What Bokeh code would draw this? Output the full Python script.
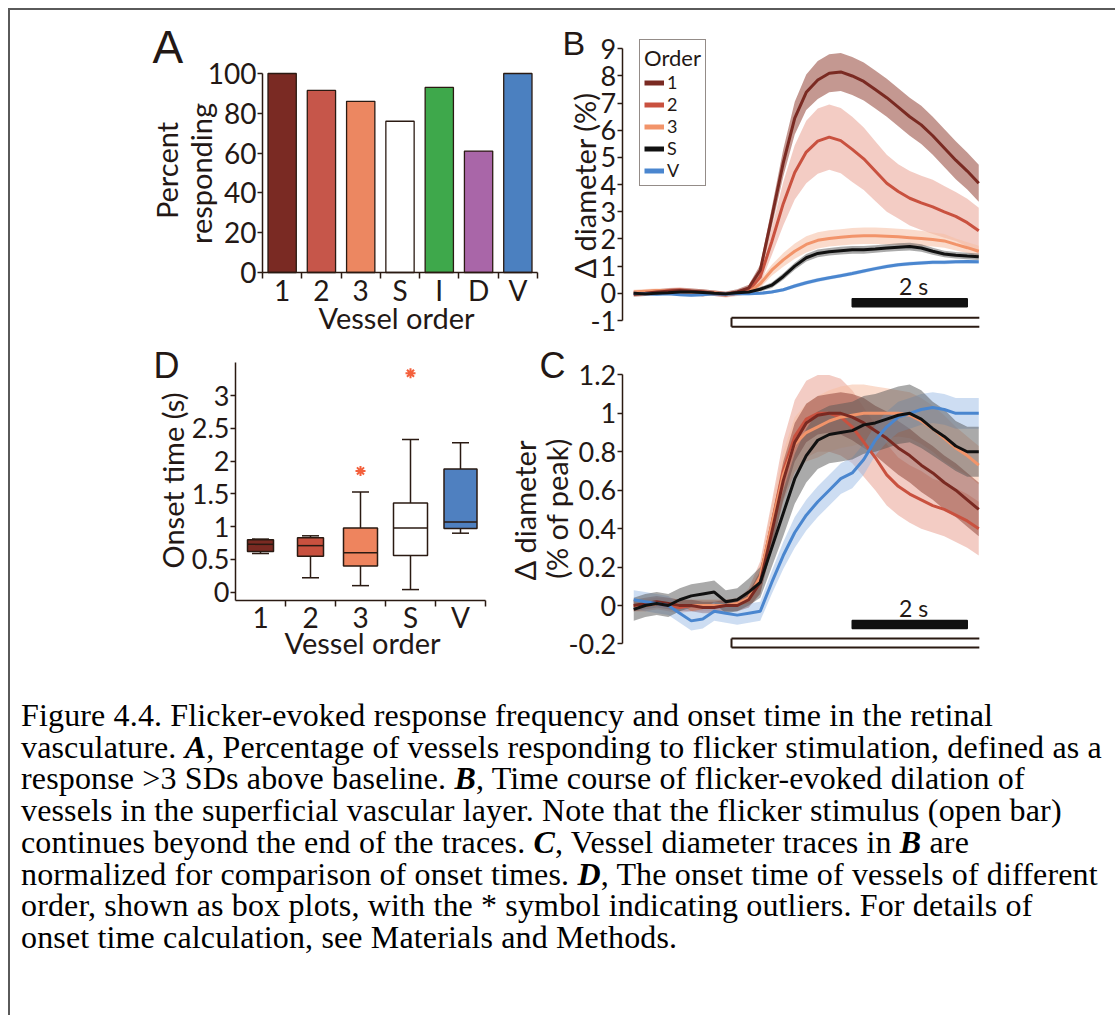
import math
from bokeh.plotting import figure
from bokeh.models import (Range1d, FixedTicker, Label, Legend, LegendItem,
                          ColumnDataSource, Div, CustomJSTickFormatter, LinearAxis)
from bokeh.layouts import row, column
from bokeh.embed import file_html
from bokeh.resources import INLINE

# ---------------- data ----------------
# Panel A: percent responding by vessel order
a_categories = ["1", "2", "3", "S", "I", "D", "V"]
a_percent = [100, 91.5, 86, 76, 93, 61, 100]

# Panels B / C: time (s, relative to flicker onset)
time_s = [-1.7, -1.5, -1.3, -1.1, -0.9, -0.7, -0.5, -0.3, -0.1, 0.1, 0.3,
          0.5, 0.7, 0.9, 1.1, 1.3, 1.5, 1.7, 1.9, 2.1, 2.3, 2.5, 2.7, 2.9,
          3.1, 3.3, 3.5, 3.7, 3.9, 4.1, 4.3]
series_names = ["1", "2", "3", "S", "V"]

# Panel B: diameter change (%) mean and SEM
b_order1 = [-0.03, 0.0, 0.05, 0.08, 0.1, 0.08, 0.05, 0.0, -0.03, 0.05, 0.2,
            0.85, 2.8, 4.8, 6.45, 7.4, 7.85, 8.1, 8.15, 8.0, 7.8, 7.5, 7.2,
            6.85, 6.5, 6.2, 5.8, 5.35, 4.9, 4.5, 4.05]
b_order1_sem = [0.1, 0.1, 0.1, 0.1, 0.1, 0.1, 0.1, 0.1, 0.1, 0.1, 0.12,
                0.2, 0.35, 0.5, 0.6, 0.65, 0.7, 0.7, 0.7, 0.7, 0.7, 0.7, 0.7,
                0.7, 0.7, 0.7, 0.7, 0.7, 0.7, 0.68, 0.68]
b_order2 = [0.0, 0.02, 0.05, 0.1, 0.12, 0.08, 0.05, 0.0, -0.05, 0.0, 0.1,
            0.6, 1.9, 3.3, 4.45, 5.2, 5.6, 5.75, 5.62, 5.3, 4.95, 4.5, 4.05,
            3.75, 3.5, 3.33, 3.18, 3.0, 2.83, 2.6, 2.3]
b_order2_sem = [0.1, 0.1, 0.1, 0.1, 0.1, 0.1, 0.1, 0.1, 0.1, 0.1, 0.12,
                0.25, 0.5, 0.8, 1.0, 1.15, 1.2, 1.2, 1.2, 1.2, 1.15, 1.1, 1.05,
                1.0, 1.0, 1.0, 1.0, 0.95, 0.9, 0.88, 0.85]
b_order3 = [0.05, 0.08, 0.1, 0.08, 0.05, 0.0, -0.05, 0.02, -0.05, 0.0, 0.05,
            0.35, 0.85, 1.23, 1.55, 1.8, 1.95, 2.02, 2.06, 2.1, 2.12, 2.12,
            2.1, 2.08, 2.05, 2.02, 1.98, 1.93, 1.8, 1.68, 1.55]
b_order3_sem = [0.08, 0.08, 0.08, 0.08, 0.08, 0.08, 0.08, 0.08, 0.08, 0.08,
                0.1, 0.15, 0.2, 0.25, 0.28, 0.3, 0.3, 0.3, 0.3, 0.3, 0.3, 0.3,
                0.3, 0.3, 0.3, 0.28, 0.26, 0.25, 0.22, 0.2, 0.2]
b_S = [0.0, -0.02, 0.0, 0.02, 0.05, 0.05, 0.03, 0.0, -0.02, 0.02, 0.05,
       0.15, 0.3, 0.62, 1.0, 1.31, 1.47, 1.53, 1.57, 1.6, 1.6, 1.63, 1.67,
       1.7, 1.72, 1.67, 1.55, 1.45, 1.4, 1.37, 1.35]
b_S_sem = [0.06, 0.06, 0.06, 0.06, 0.06, 0.06, 0.06, 0.06, 0.06, 0.06, 0.07,
           0.08, 0.1, 0.12, 0.13, 0.14, 0.14, 0.14, 0.14, 0.14, 0.14, 0.14,
           0.14, 0.14, 0.14, 0.14, 0.13, 0.12, 0.12, 0.12, 0.12]
b_V = [0.0, -0.02, -0.03, -0.02, -0.05, -0.07, -0.05, -0.02, -0.03, -0.02,
       -0.02, 0.0, 0.05, 0.13, 0.27, 0.39, 0.49, 0.57, 0.65, 0.73, 0.82,
       0.91, 0.99, 1.05, 1.09, 1.12, 1.14, 1.14, 1.16, 1.17, 1.16]
b_V_sem = [0.05, 0.05, 0.05, 0.05, 0.05, 0.05, 0.05, 0.05, 0.05, 0.05, 0.05,
           0.05, 0.06, 0.06, 0.07, 0.07, 0.07, 0.07, 0.07, 0.07, 0.07, 0.07,
           0.07, 0.07, 0.07, 0.07, 0.07, 0.07, 0.07, 0.07, 0.07]

# Panel C: normalized diameter (fraction of peak) mean and SEM
c_order1 = [0.0, 0.01, 0.02, 0.01, 0.0, 0.0, -0.01, -0.01, 0.0, 0.0, 0.03,
            0.12, 0.38, 0.65, 0.85, 0.95, 0.99, 1.0, 1.0, 0.98, 0.95, 0.91,
            0.87, 0.82, 0.78, 0.73, 0.69, 0.64, 0.6, 0.55, 0.5]
c_order1_sem = [0.03, 0.03, 0.03, 0.03, 0.03, 0.03, 0.03, 0.03, 0.03, 0.03,
                0.04, 0.06, 0.08, 0.1, 0.1, 0.1, 0.1, 0.1, 0.11, 0.12, 0.13,
                0.13, 0.14, 0.14, 0.14, 0.14, 0.14, 0.14, 0.14, 0.14, 0.14]
c_order2 = [0.0, 0.0, 0.01, 0.0, -0.01, 0.0, 0.0, 0.0, 0.0, 0.0, 0.04, 0.15,
            0.42, 0.7, 0.88, 0.97, 1.0, 1.0, 0.98, 0.93, 0.85, 0.77, 0.68,
            0.62, 0.58, 0.55, 0.52, 0.5, 0.47, 0.44, 0.4]
c_order2_sem = [0.03, 0.03, 0.03, 0.03, 0.03, 0.03, 0.03, 0.03, 0.03, 0.03,
                0.05, 0.08, 0.12, 0.16, 0.19, 0.2, 0.2, 0.2, 0.2, 0.19, 0.18,
                0.17, 0.16, 0.15, 0.15, 0.15, 0.14, 0.14, 0.14, 0.14, 0.14]
c_order3 = [0.0, 0.0, 0.01, 0.01, 0.0, 0.0, 0.0, 0.0, 0.0, 0.01, 0.04, 0.15,
            0.42, 0.68, 0.84, 0.9, 0.93, 0.96, 0.98, 0.99, 1.0, 1.0, 1.0, 1.0,
            0.99, 0.96, 0.92, 0.87, 0.82, 0.78, 0.73]
c_order3_sem = [0.03, 0.03, 0.03, 0.03, 0.03, 0.03, 0.03, 0.03, 0.03, 0.03,
                0.04, 0.06, 0.1, 0.12, 0.14, 0.15, 0.16, 0.16, 0.16, 0.16,
                0.15, 0.14, 0.13, 0.12, 0.12, 0.12, 0.12, 0.12, 0.11, 0.1, 0.1]
c_S = [-0.02, 0.0, 0.01, 0.0, 0.03, 0.05, 0.06, 0.07, 0.02, 0.03, 0.07, 0.12,
       0.3, 0.48, 0.66, 0.78, 0.86, 0.89, 0.9, 0.91, 0.94, 0.95, 0.97, 0.99,
       1.0, 0.97, 0.92, 0.88, 0.83, 0.8, 0.8]
c_S_sem = [0.06, 0.06, 0.06, 0.06, 0.06, 0.06, 0.06, 0.06, 0.06, 0.06, 0.07,
           0.08, 0.1, 0.12, 0.13, 0.14, 0.15, 0.15, 0.15, 0.15, 0.15, 0.15,
           0.15, 0.15, 0.15, 0.15, 0.14, 0.14, 0.13, 0.13, 0.13]
c_V = [0.03, 0.02, 0.01, 0.0, -0.04, -0.08, -0.07, -0.03, -0.04, -0.05,
       -0.04, -0.03, 0.12, 0.26, 0.38, 0.47, 0.54, 0.6, 0.66, 0.69, 0.76,
       0.86, 0.93, 0.98, 1.0, 1.02, 1.03, 1.02, 1.0, 1.0, 1.0]
c_V_sem = [0.05, 0.05, 0.05, 0.05, 0.05, 0.05, 0.05, 0.05, 0.05, 0.05, 0.05,
           0.05, 0.06, 0.07, 0.08, 0.08, 0.08, 0.08, 0.08, 0.08, 0.08, 0.08,
           0.08, 0.08, 0.08, 0.08, 0.08, 0.08, 0.08, 0.08, 0.08]

# Stimulus timing (s)
stim_onset = 0.0
scale_bar_len = 2.0
scale_bar_end = 4.1

# Panel D: onset-time box plots (s)
d_categories = ["1", "2", "3", "S", "V"]
d_whisker_lo = [0.59, 0.22, 0.10, 0.04, 0.90]
d_q1 = [0.62, 0.55, 0.40, 0.56, 0.97]
d_median = [0.73, 0.71, 0.60, 0.98, 1.07]
d_q3 = [0.80, 0.83, 0.98, 1.36, 1.88]
d_whisker_hi = [0.81, 0.86, 1.53, 2.33, 2.28]
d_outlier_cat = ["3", "S"]
d_outlier_val = [1.85, 3.34]

# ---------------- styles ----------------
AX = "#2a1a12"
TXT = "#231815"
FONT = "Lato"
LFONT = "Liberation Sans"
a_colors = ["#7a2a23", "#c6564a", "#ec8761", "#ffffff", "#3ea84b", "#a966a8", "#4b80c0"]
line_colors = {"1": "#7a2a22", "2": "#c9513f", "3": "#f2946a", "S": "#111111", "V": "#4a86cf"}
band_colors = {"1": "#9c5448", "2": "#e8998a", "3": "#f6bea2", "S": "#555555", "V": "#9bbbe6"}
band_alpha = {"1": 0.6, "2": 0.5, "3": 0.55, "S": 0.5, "V": 0.5}
d_colors = ["#7a2a22", "#c9513f", "#ee845e", "#ffffff", "#4f80c0"]
d_box_width = [0.52, 0.52, 0.68, 0.68, 0.66]
d_cap_width = 0.34

# canvas geometry in page pixels: (left, top, width, height)
CANVAS = {
    "A": (10, 10, 537, 325),
    "B": (547, 10, 452, 325),
    "D": (10, 335, 490, 330),
    "C": (500, 335, 499, 330),
}


def span(v0, p0, v1, p1, lo_px, hi_px):
    """Range whose values v0/v1 land on pixels p0/p1, over pixels lo..hi."""
    f = lambda px: v0 + (px - p0) * (v1 - v0) / (p1 - p0)
    a, b = f(lo_px), f(hi_px)
    return Range1d(min(a, b), max(a, b))


def xr(key, v0, p0, v1, p1):
    l, t, w, h = CANVAS[key]
    return span(v0, p0, v1, p1, l, l + w)


def yr(key, v0, p0, v1, p1):
    l, t, w, h = CANVAS[key]
    return span(v0, p0, v1, p1, t, t + h)


def style_axis(ax, size="27px", tick_out=5, standoff=1):
    ax.axis_line_color = AX
    ax.axis_line_width = 1.5
    ax.major_tick_line_color = AX
    ax.major_tick_line_width = 1.5
    ax.major_tick_out = tick_out
    ax.major_tick_in = 0
    ax.minor_tick_line_color = None
    ax.major_label_text_font = FONT
    ax.major_label_text_font_size = size
    ax.major_label_text_color = TXT
    ax.major_label_standoff = standoff


def cat_axis(ax, ticks, minor, labels, size, standoff):
    style_axis(ax, size=size, tick_out=0, standoff=standoff)
    ax.ticker = FixedTicker(ticks=ticks, minor_ticks=minor)
    ax.major_label_overrides = {i: c for i, c in zip(ticks, labels)}
    ax.major_tick_line_color = None
    ax.minor_tick_line_color = AX
    ax.minor_tick_line_width = 1.5
    ax.minor_tick_out = 6
    ax.minor_tick_in = 0


def base_fig(key, x_range, y_range):
    l, t, w, h = CANVAS[key]
    p = figure(width=w, height=h, min_border=0, title=None,
               x_range=x_range, y_range=y_range, output_backend="svg",
               toolbar_location=None, x_axis_location=None, y_axis_location=None)
    p.grid.visible = False
    p.outline_line_color = None
    p.background_fill_color = "white"
    p.border_fill_color = "white"
    return p


def text(p, key, txt, px, py, size, font=FONT, angle=0.0, align="center"):
    l, t, w, h = CANVAS[key]
    p.add_layout(Label(x=px - l, y=t + h - py, x_units="screen", y_units="screen",
                       text=txt, text_font=font, text_font_size=size,
                       text_color=TXT, angle=angle, text_align=align,
                       text_baseline="middle"))


num_fmt = CustomJSTickFormatter(code="return String(tick)")
ROT = math.pi / 2

# ---------------- Panel A ----------------
a_x = list(range(len(a_categories)))
pA = base_fig("A", xr("A", -0.5, 262, len(a_categories) - 0.5, 537),
              yr("A", 0, 272, 100, 73))
pA.vbar(x=a_x, top=a_percent, width=0.72, fill_color=a_colors,
        line_color=AX, line_width=1.3)
ya = LinearAxis()
pA.add_layout(ya, "left")
style_axis(ya, size="28px", standoff=1)
ya.ticker = FixedTicker(ticks=[0, 20, 40, 60, 80, 100])
ya.bounds = (0, 100)
ya.fixed_location = -0.5
xa = LinearAxis()
pA.add_layout(xa, "below")
cat_axis(xa, a_x, [i - 0.5 for i in range(len(a_categories) + 1)], a_categories, "28px", -6)
xa.fixed_location = 0
xa.bounds = (-0.5, len(a_categories) - 0.5)
text(pA, "A", "Vessel order", 396, 317, "29px")
text(pA, "A", "Percent", 166, 170, "29px", angle=ROT)
text(pA, "A", "responding", 200, 173, "29px", angle=ROT)
text(pA, "A", "A", 152, 46, "46px", font=LFONT, align="left")


# ---------------- traces helper ----------------
def trace_panel(p, means, sems):
    src = {"t": time_s}
    for name in series_names:
        m, s = means[name], sems[name]
        src[name + "_lo"] = [a - b for a, b in zip(m, s)]
        src[name + "_hi"] = [a + b for a, b in zip(m, s)]
        src[name] = m
    source = ColumnDataSource(src)
    for name in ["2", "3", "1", "V", "S"]:
        p.varea(x="t", y1=name + "_lo", y2=name + "_hi", source=source,
                fill_color=band_colors[name], fill_alpha=band_alpha[name])
    for name in ["2", "3", "1", "V", "S"]:
        p.line(x="t", y=name, source=source,
               line_color=line_colors[name], line_width=3)


def stim_bars(p, key, open_bot, open_top, sb_bot, sb_top, label_py):
    t_end = time_s[-1] + 0.01
    p.quad(left=[stim_onset], right=[t_end], bottom=[open_bot], top=[open_top],
           fill_color="white", line_color=None)
    p.segment(x0=[stim_onset, stim_onset, stim_onset], x1=[t_end, t_end, stim_onset],
              y0=[open_bot, open_top, open_bot], y1=[open_bot, open_top, open_top],
              line_color=AX, line_width=2)
    p.quad(left=[scale_bar_end - scale_bar_len], right=[scale_bar_end],
           bottom=[sb_bot], top=[sb_top], fill_color="#111111", line_color="#111111",
           line_width=1.5)
    text(p, key, "2 s", 913, label_py, "23px")


px_per_s = 57.5
t0_px = 731
trace_axis_t = -1.9   # y-axis sits just before the first sample

# ---------------- Panel B ----------------
pB = base_fig("B", xr("B", 0, t0_px, 2, t0_px + 2 * px_per_s),
              yr("B", -1, 320, 9, 48.3))
trace_panel(pB,
            {"1": b_order1, "2": b_order2, "3": b_order3, "S": b_S, "V": b_V},
            {"1": b_order1_sem, "2": b_order2_sem, "3": b_order3_sem, "S": b_S_sem, "V": b_V_sem})
stim_bars(pB, "B", -1.23, -0.9, -0.49, -0.2, 285)
yb = LinearAxis()
pB.add_layout(yb, "left")
style_axis(yb, size="27px")
yb.ticker = FixedTicker(ticks=list(range(-1, 10)))
yb.formatter = num_fmt
yb.bounds = (-1, 9)
yb.fixed_location = trace_axis_t
text(pB, "B", "Δ diameter (%)", 584, 185, "29px", angle=ROT)
text(pB, "B", "B", 562, 42, "34px", font=LFONT, align="left")
items = []
for name in series_names:
    r = pB.line(x=[float("nan")], y=[float("nan")], line_color=line_colors[name], line_width=5)
    items.append(LegendItem(label=name, renderers=[r]))
leg = Legend(items=items, title="Order", location=(639 - 547, 335 - 186), margin=0,
             title_text_font=FONT, title_text_font_size="22px",
             title_text_font_style="normal", title_text_color=TXT,
             label_text_font=FONT, label_text_font_size="18px",
             label_text_color=TXT, label_height=21, glyph_height=21,
             glyph_width=20, label_standoff=3, padding=4, spacing=0,
             title_standoff=0, border_line_color=AX, border_line_width=1.3,
             background_fill_alpha=1.0)
pB.add_layout(leg)

# ---------------- Panel D ----------------
d_x = list(range(len(d_categories)))
pD = base_fig("D", xr("D", -0.5, 235, len(d_categories) - 0.5, 485),
              yr("D", 0, 591.7, 3, 395))
dsrc = ColumnDataSource(dict(
    x=d_x, lo=d_whisker_lo, q1=d_q1, med=d_median, q3=d_q3, hi=d_whisker_hi,
    left=[x - w / 2 for x, w in zip(d_x, d_box_width)],
    right=[x + w / 2 for x, w in zip(d_x, d_box_width)],
    cl=[x - d_cap_width / 2 for x in d_x], cr=[x + d_cap_width / 2 for x in d_x],
    color=d_colors))
pD.segment(x0="x", y0="q3", x1="x", y1="hi", source=dsrc, line_color=AX, line_width=1.5)
pD.segment(x0="x", y0="q1", x1="x", y1="lo", source=dsrc, line_color=AX, line_width=1.5)
pD.segment(x0="cl", y0="hi", x1="cr", y1="hi", source=dsrc, line_color=AX, line_width=1.5)
pD.segment(x0="cl", y0="lo", x1="cr", y1="lo", source=dsrc, line_color=AX, line_width=1.5)
pD.quad(left="left", right="right", bottom="q1", top="q3", source=dsrc,
        fill_color="color", line_color=AX, line_width=1.5)
pD.segment(x0="left", y0="med", x1="right", y1="med", source=dsrc,
           line_color=AX, line_width=1.5)
pD.scatter(x=[d_categories.index(c) for c in d_outlier_cat], y=d_outlier_val,
           marker="asterisk", size=10, line_color="#f4603c", line_width=2)
d_axis_floor = -0.122
yd = LinearAxis()
pD.add_layout(yd, "left")
style_axis(yd, size="27px")
yd.ticker = FixedTicker(ticks=[0, 0.5, 1, 1.5, 2, 2.5, 3])
yd.formatter = num_fmt
yd.bounds = (d_axis_floor, 3.5)
yd.fixed_location = -0.5
xd = LinearAxis()
pD.add_layout(xd, "below")
cat_axis(xd, d_x, [i + 0.5 for i in range(len(d_categories))], d_categories, "28px", -6)
xd.fixed_location = d_axis_floor
xd.bounds = (-0.5, len(d_categories) - 0.5)
text(pD, "D", "Vessel order", 362, 642, "29px")
text(pD, "D", "Onset time (s)", 172, 480, "29px", angle=ROT)
text(pD, "D", "D", 153, 365, "36px", font=LFONT, align="left")

# ---------------- Panel C ----------------
pC = base_fig("C", xr("C", 0, t0_px, 2, t0_px + 2 * px_per_s),
              yr("C", 0, 605, 1.2, 374.4))
trace_panel(pC,
            {"1": c_order1, "2": c_order2, "3": c_order3, "S": c_S, "V": c_V},
            {"1": c_order1_sem, "2": c_order2_sem, "3": c_order3_sem, "S": c_S_sem, "V": c_V_sem})
stim_bars(pC, "C", -0.219, -0.172, -0.12, -0.078, 607)
yc = LinearAxis()
pC.add_layout(yc, "left")
style_axis(yc, size="27px")
yc.ticker = FixedTicker(ticks=[-0.2, 0, 0.2, 0.4, 0.6, 0.8, 1, 1.2])
yc.formatter = num_fmt
yc.bounds = (-0.2, 1.2)
yc.fixed_location = trace_axis_t
text(pC, "C", "Δ diameter", 524, 510, "29px", angle=ROT)
text(pC, "C", "(% of peak)", 556, 508, "29px", angle=ROT)
text(pC, "C", "C", 539, 365, "36px", font=LFONT, align="left")

# ---------------- caption ----------------
caption_html = (
    "<div style=\"font-family:'Liberation Serif','Times New Roman',serif;"
    "font-size:32px;letter-spacing:0.15px;line-height:31.7px;color:#000;"
    "white-space:nowrap;padding-left:6px;padding-top:30px;\">"
    "Figure 4.4. Flicker-evoked response frequency and onset time in the retinal<br>"
    "vasculature. <b><i>A</i></b>, Percentage of vessels responding to flicker stimulation, defined as a<br>"
    "response &gt;3 SDs above baseline. <b><i>B</i></b>, Time course of flicker-evoked dilation of<br>"
    "vessels in the superficial vascular layer. Note that the flicker stimulus (open bar)<br>"
    "continues beyond the end of the traces. <b><i>C</i></b>, Vessel diameter traces in <b><i>B</i></b> are<br>"
    "normalized for comparison of onset times. <b><i>D</i></b>, The onset time of vessels of different<br>"
    "order, shown as box plots, with the * symbol indicating outliers. For details of<br>"
    "onset time calculation, see Materials and Methods."
    "</div>")
cap = Div(text=caption_html, width=1100, height=340)

layout = column(row(pA, pB), row(pD, pC), cap,
                styles={"border-left": "2px solid #5a5a5a",
                        "border-top": "2px solid #5a5a5a",
                        "margin-left": "8px", "margin-top": "8px"})

open("out.html", "w").write(file_html(layout, INLINE))
